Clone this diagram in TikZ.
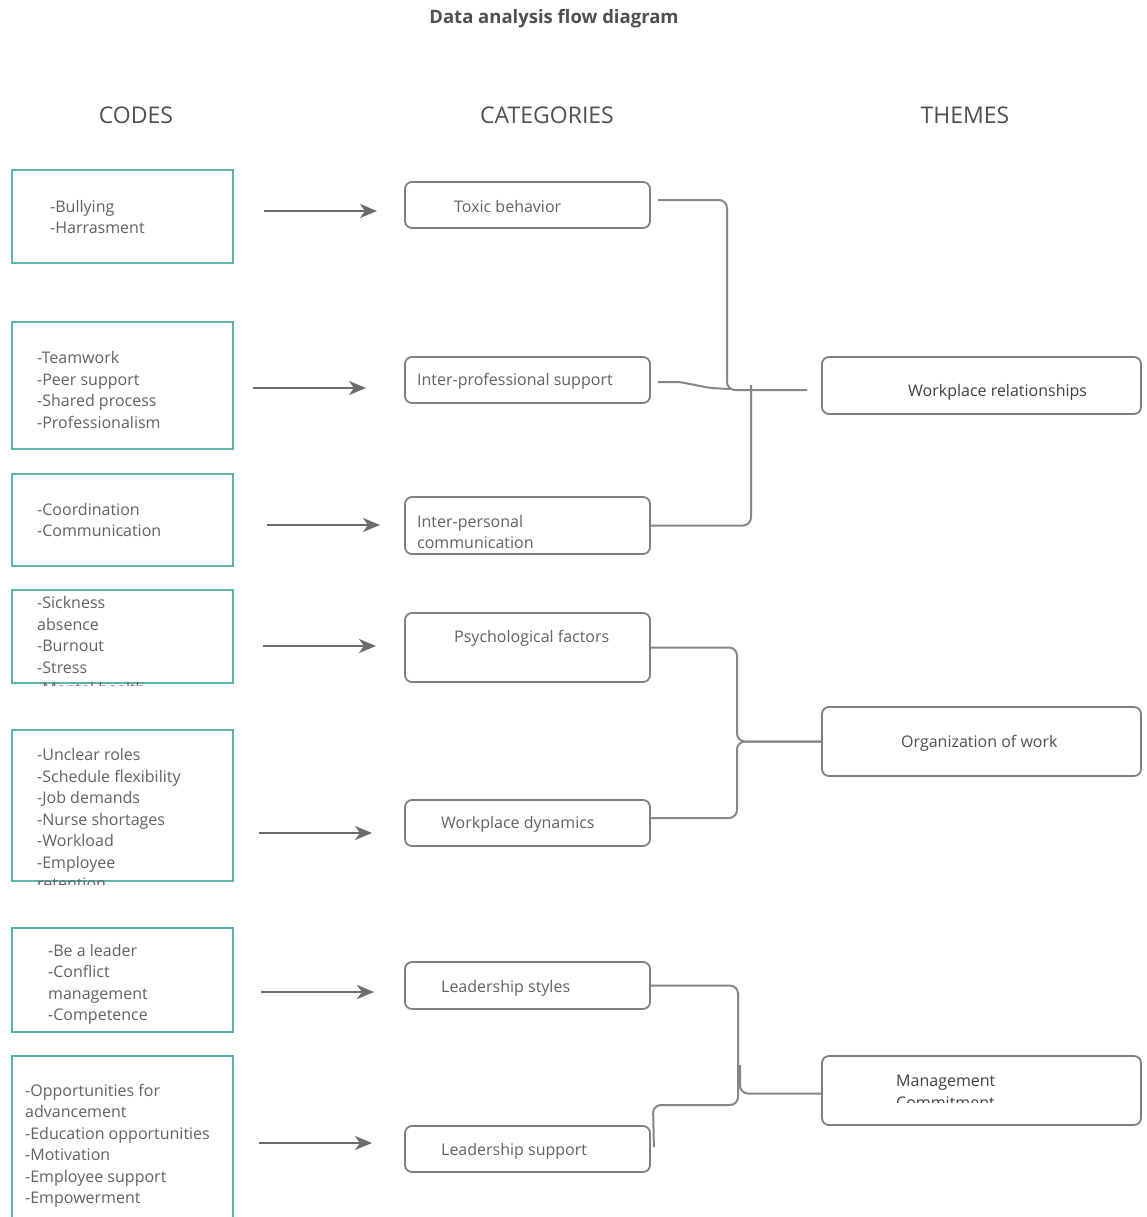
\documentclass[tikz,border=0pt]{standalone}
\usepackage{fontspec}
\setmainfont{Open Sans}
\usetikzlibrary{arrows.meta}

\definecolor{codeteal}{RGB}{93,181,170}
\definecolor{boxgrey}{RGB}{128,128,128}
\definecolor{linkgrey}{RGB}{135,135,135}
\definecolor{arrowgrey}{RGB}{108,108,108}
\definecolor{txtgrey}{RGB}{98,98,98}
\definecolor{headgrey}{RGB}{80,80,80}

\begin{document}
\begin{tikzpicture}[x=1pt,y=-1pt,
    codebox/.style={draw=codeteal, line width=2pt, minimum width=221pt, inner sep=0pt},
    catbox/.style={draw=boxgrey, line width=1.8pt, rounded corners=7pt, minimum width=245pt, inner sep=0pt},
    themebox/.style={draw=boxgrey, line width=1.8pt, rounded corners=7pt, minimum width=319pt, inner sep=0pt},
    txt/.style={anchor=west, inner sep=0pt, align=left, text=txtgrey, font=\fontsize{16}{21.5}\selectfont},
    head/.style={text=headgrey, font=\fontsize{23}{27}\selectfont},
    flow/.style={draw=arrowgrey, line width=2pt, -{Stealth[length=17pt,width=14pt,inset=5pt]}},
    link/.style={draw=linkgrey, line width=2pt, rounded corners=8pt}]

    \useasboundingbox (0,0) rectangle (1147,1217);
    \fill[white] (0,0) rectangle (1147,1217);

    %Title and column heads
    \node[text=headgrey, font=\fontsize{18.5}{22}\selectfont\bfseries] (title) at (554,19) {Data analysis flow diagram};
    \node[head] (hcodes) at (136,115) {CODES};
    \node[head] (hcats)  at (547,115) {CATEGORIES};
    \node[head] (hthemes) at (965,115) {THEMES};

    %Codes
    \node[codebox, minimum height=93pt]  (c1) at (122.5,216.5) {};
    \node[codebox, minimum height=127pt] (c2) at (122.5,385.5) {};
    \node[codebox, minimum height=92pt]  (c3) at (122.5,520) {};
    \node[codebox, minimum height=93pt]  (c4) at (122.5,636.5) {};
    \node[codebox, minimum height=151pt] (c5) at (122.5,805.5) {};
    \node[codebox, minimum height=104pt] (c6) at (122.5,980) {};
    \node[codebox, minimum height=184pt] (c7) at (122.5,1148) {};

    \node[txt] (c1t) at (50,217) {-Bullying\\-Harrasment};
    \node[txt] (c2t) at (37,390) {-Teamwork\\-Peer support\\-Shared process\\-Professionalism};
    \node[txt] (c3t) at (37,520) {-Coordination\\-Communication};
    \begin{scope}
      \clip (0,0) rectangle (1147,685);
      \node[txt] (c4t) at (37,645.5) {-Sickness\\absence\\-Burnout\\-Stress\\-Mental health};
    \end{scope}
    \begin{scope}
      \clip (0,700) rectangle (1147,884);
      \node[txt] (c5t) at (37,819) {-Unclear roles\\-Schedule flexibility\\-Job demands\\-Nurse shortages\\-Workload\\-Employee\\retention};
    \end{scope}
    \node[txt] (c6t) at (48,984.5) {-Be a leader\\-Conflict\\management\\-Competence};
    \node[txt] (c7t) at (25,1146) {-Opportunities for\\advancement\\-Education opportunities\\-Motivation\\-Employee support\\-Empowerment};

    %Categories
    \node[catbox, minimum height=46pt] (k1) at (527.5,205) {};
    \node[catbox, minimum height=46pt] (k2) at (527.5,380) {};
    \node[catbox, minimum height=57pt] (k3) at (527.5,525.5) {};
    \node[catbox, minimum height=69pt] (k4) at (527.5,647.5) {};
    \node[catbox, minimum height=46pt] (k5) at (527.5,823) {};
    \node[catbox, minimum height=47pt] (k6) at (527.5,985.5) {};
    \node[catbox, minimum height=46pt] (k7) at (527.5,1149) {};

    \node[txt] (k1t) at (454,206.5) {Toxic behavior};
    \node[txt] (k2t) at (417,381.5) {Inter-professional support};
    \node[txt] (k3t) at (417,532) {Inter-personal\\communication};
    \node[txt] (k4t) at (454,638.5) {Psychological factors};
    \node[txt] (k5t) at (441,824.5) {Workplace dynamics};
    \node[txt] (k6t) at (441,988.5) {Leadership styles};
    \node[txt] (k7t) at (441,1151.5) {Leadership support};

    %Themes
    \node[themebox, minimum height=57pt] (t1) at (981.5,385.5) {};
    \node[themebox, minimum height=69pt] (t2) at (981.5,741.5) {};
    \node[themebox, minimum height=69pt] (t3) at (981.5,1090.5) {};

    \node[txt, text=black!75] (t1t) at (908,392.5) {Workplace relationships};
    \node[txt, text=headgrey] (t2t) at (901,743.5) {Organization of work};
    \begin{scope}
      \clip (800,1060) rectangle (1147,1102);
      \node[txt, text=black!75] (t3t) at (896,1092) {Management\\Commitment};
    \end{scope}

    %Arrows codes -> categories
    \foreach \i/\xa/\xb/\y in {1/264/377/211, 2/253/366/388, 3/267/380/525, 4/263/376/646,
                               5/259/372/833, 6/261/374/992, 7/259/372/1143}{
      \coordinate (a\i s) at (\xa,\y);
      \coordinate (a\i e) at (\xb,\y);
      \draw[flow] (a\i s) -- (a\i e);
    }

    %Categories -> Workplace relationships
    \coordinate (j1) at (751,385);
    \coordinate (w1) at (807,390);
    \draw[link] ([xshift=7pt,yshift=5pt]k1.east) -- (727,200) -- (727,390) -- (w1);
    \draw[link, rounded corners=4pt] ([xshift=7pt,yshift=-2pt]k2.east) -- (680,382) -- (710,388) -- (730,389);
    \draw[link] (k3.east) -- (751,525.5) -- (j1);

    %Categories -> Organization of work
    \draw[link] (k4.east) -- (737,647.5) -- (737,741.5) -- (t2.west);
    \draw[link] ([yshift=5pt]k5.east) -- (737,818) -- (737,741.5) -- (t2.west);

    %Categories -> Management Commitment
    \coordinate (j3) at (740,1065);
    \draw[link] (k6.east) -- (738,985.5) -- (738,1105) -- (653,1105) -- ([xshift=3pt,yshift=2pt]k7.east);
    \draw[link] (j3) -- (740,1093.5) -- ([yshift=-3pt]t3.west);

\end{tikzpicture}
\end{document}
